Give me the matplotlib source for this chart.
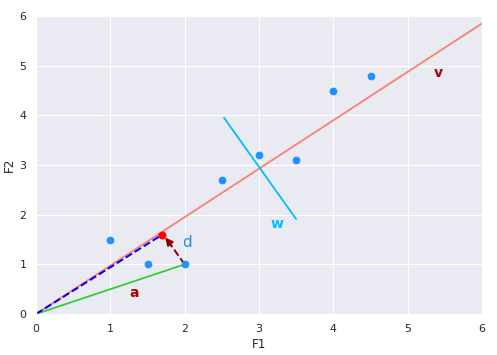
import matplotlib
matplotlib.use('Agg')
import matplotlib.pyplot as plt
import seaborn as sns

# data points
xs = [1, 1.5, 2, 2.5, 3, 3.5, 4, 4.5]
ys = [1.5, 1, 1, 2.7, 3.2, 3.1, 4.5, 4.8]

# vectors
v_end = [6, 5.85]
a_vec = [2, 1]
proj = [1.7, 1.6]
w_start = [2.53, 3.95]
w_end = [3.5, 1.91]

sns.set_theme(style='darkgrid')

fig = plt.figure(figsize=(497 / 72, 355 / 72), dpi=72)
ax = fig.add_axes([36 / 497, 1 - 314 / 355, 446 / 497, 298 / 355])

ax.plot([0, v_end[0]], [0, v_end[1]], color='salmon', lw=1.8)
ax.plot([0, a_vec[0]], [0, a_vec[1]], color='limegreen', lw=1.8)
ax.plot([w_start[0], w_end[0]], [w_start[1], w_end[1]], color='deepskyblue', lw=1.8)
ax.scatter(xs, ys, color='dodgerblue', s=45, zorder=3)
ax.plot([0, proj[0]], [0, proj[1]], color='blue', ls='--', lw=2)
ax.scatter([proj[0]], [proj[1]], color='red', s=50, zorder=4)

# arrow from a to its projection
ax.plot([a_vec[0], proj[0] + 0.08], [a_vec[1], proj[1] - 0.14], color='darkred', ls='--', lw=2)
ax.annotate('', xy=(proj[0] + 0.02, proj[1] - 0.03), xytext=(proj[0] + 0.12, proj[1] - 0.21),
            arrowprops=dict(arrowstyle='-|>', color='darkred', lw=2, mutation_scale=15))

ax.text(5.41, 4.85, 'v', color='#b00000', fontsize=14, fontweight='bold', ha='center', va='center')
ax.text(3.24, 1.81, 'w', color='deepskyblue', fontsize=14, fontweight='bold', ha='center', va='center')
ax.text(1.32, 0.42, 'a', color='#b00000', fontsize=14, fontweight='bold', ha='center', va='center')
ax.text(2.03, 1.43, 'd', color='#2a8ac4', fontsize=15, ha='center', va='center')

ax.set_xlim(0, 6)
ax.set_ylim(0, 6)
ax.set_xlabel('F1')
ax.set_ylabel('F2')

fig.savefig('out.png', dpi=72)
